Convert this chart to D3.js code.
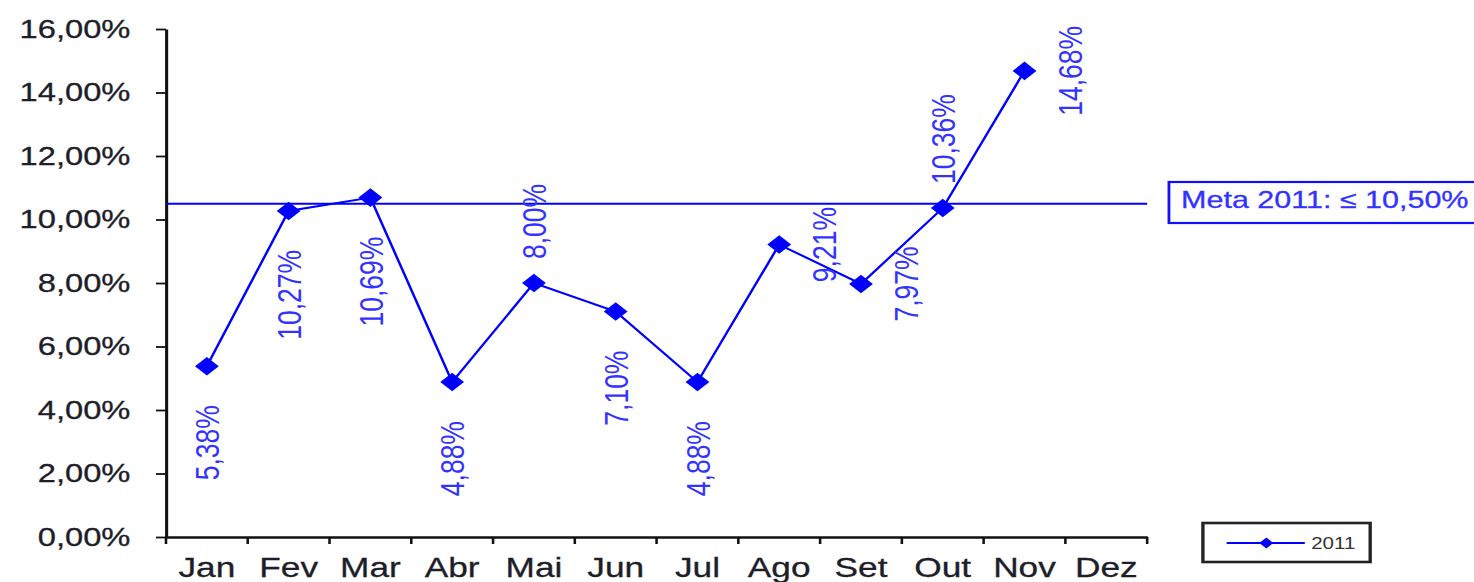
<!DOCTYPE html>
<html>
<head>
<meta charset="utf-8">
<script src="https://cdn.jsdelivr.net/npm/d3@7"></script>
<style>
  html, body { margin: 0; padding: 0; background: #fff; overflow: hidden; }
  svg { display: block; }
  text { font-family: "Liberation Sans", Arial, sans-serif; }
</style>
</head>
<body>
<svg id="chart"></svg>
<script>
// data
var months = ["Jan", "Fev", "Mar", "Abr", "Mai", "Jun", "Jul", "Ago", "Set", "Out", "Nov", "Dez"];
var values2011 = [5.38, 10.27, 10.69, 4.88, 8.00, 7.10, 4.88, 9.21, 7.97, 10.36, 14.68, null];
var labelSide = ["below", "below", "below", "below", "above", "below", "below", "right", "right", "above", "right", "below"];
var yTicks = [0, 2, 4, 6, 8, 10, 12, 14, 16];
var meta = 10.50;
var metaText = "Meta 2011: \u2264 10,50%";
var seriesName = "2011";

var W = 1474, H = 582;
// the original picture is stretched sideways, so draw in a narrower box and let the svg stretch it
var VW = 1150;

var svg = d3.select("#chart")
    .attr("width", W).attr("height", H)
    .attr("viewBox", "0 0 " + VW + " " + H)
    .attr("preserveAspectRatio", "none");

var plotL = 129.5, plotR = 895, plotT = 29, plotB = 537;

var x = d3.scaleBand().domain(months).range([plotL, plotR]);
var y = d3.scaleLinear().domain([0, 16]).range([plotB, plotT]);

function pct(v) { return d3.format(".2f")(v).replace(".", ",") + "%"; }

// y axis
var yAxis = svg.append("g")
    .attr("transform", "translate(" + plotL + ",0)")
    .call(d3.axisLeft(y).tickValues(yTicks).tickSize(7.8).tickSizeOuter(0).tickPadding(20).tickFormat(pct));
yAxis.select(".domain").attr("stroke", "#111").attr("stroke-width", 2.4);
yAxis.selectAll(".tick line").attr("stroke", "#111").attr("stroke-width", 1.8);
yAxis.selectAll(".tick text")
    .attr("fill", "#1e1e2a").attr("stroke", "#1e1e2a").attr("stroke-width", 0.3)
    .style("font-size", "25.5px");

// x axis
var xAxis = svg.append("g")
    .attr("transform", "translate(0," + plotB + ")")
    .call(d3.axisBottom(x).tickSize(0).tickSizeOuter(0).tickPadding(20));
xAxis.select(".domain").attr("stroke", "#111").attr("stroke-width", 2.4);
xAxis.selectAll(".tick text")
    .attr("fill", "#1e1e2a").attr("stroke", "#1e1e2a").attr("stroke-width", 0.3)
    .style("font-size", "27.5px");

// boundary ticks between categories
xAxis.selectAll(".bound")
    .data(d3.range(months.length + 1))
    .enter().append("line")
    .attr("class", "bound")
    .attr("x1", function(i) { return plotL + i * x.step(); })
    .attr("x2", function(i) { return plotL + i * x.step(); })
    .attr("y1", 0).attr("y2", 7)
    .attr("stroke", "#111").attr("stroke-width", 2);

// meta line and label
svg.append("line")
    .attr("x1", plotL).attr("x2", plotR)
    .attr("y1", y(meta)).attr("y2", y(meta))
    .attr("stroke", "#0000ff").attr("stroke-width", 2);

svg.append("rect")
    .attr("x", 912).attr("y", 182)
    .attr("width", 260).attr("height", 41)
    .attr("fill", "#fff").attr("stroke", "#1010ff").attr("stroke-width", 2.2);
svg.append("text")
    .attr("x", 921.5).attr("y", 208)
    .attr("fill", "#3333ff").attr("stroke", "#3333ff").attr("stroke-width", 0.3)
    .style("font-size", "23.8px")
    .text(metaText);

// the series
var pts = months.map(function(m, i) { return { m: m, v: values2011[i], side: labelSide[i] }; })
    .filter(function(d) { return d.v != null; });

var line = d3.line()
    .x(function(d) { return x(d.m) + x.bandwidth() / 2; })
    .y(function(d) { return y(d.v); });

svg.append("path")
    .datum(pts)
    .attr("d", line)
    .attr("fill", "none")
    .attr("stroke", "#0000ff")
    .attr("stroke-width", 2);

var diamond = d3.symbol().type(d3.symbolDiamond2).size(220);

svg.selectAll(".pt")
    .data(pts)
    .enter().append("path")
    .attr("class", "pt")
    .attr("d", diamond)
    .attr("transform", function(d) { return "translate(" + (x(d.m) + x.bandwidth() / 2) + "," + y(d.v) + ")"; })
    .attr("fill", "#0000ff");

// rotated value labels
svg.selectAll(".lbl")
    .data(pts)
    .enter().append("text")
    .attr("class", "lbl")
    .attr("transform", function(d) {
        var px = x(d.m) + x.bandwidth() / 2, py = y(d.v);
        if (d.side == "above") py -= 24;
        else if (d.side == "below") py += 39;
        else px += 35;
        return "translate(" + px + "," + py + ") rotate(-90)";
    })
    .attr("text-anchor", function(d) {
        return d.side == "above" ? "start" : d.side == "below" ? "end" : "middle";
    })
    .attr("dy", "0.36em")
    .attr("fill", "#3333ff")
    .style("font-size", "26.5px")
    .text(function(d) { return pct(d.v); });

// legend
var lg = svg.append("g");
lg.append("rect")
    .attr("x", 938.5).attr("y", 523)
    .attr("width", 130.5).attr("height", 39)
    .attr("fill", "#fff").attr("stroke", "#222").attr("stroke-width", 2.6);
lg.append("line")
    .attr("x1", 957).attr("x2", 1018)
    .attr("y1", 543).attr("y2", 543)
    .attr("stroke", "#0000ff").attr("stroke-width", 2);
lg.append("path")
    .attr("d", d3.symbol().type(d3.symbolDiamond2).size(75))
    .attr("transform", "translate(988,543)")
    .attr("fill", "#0000ff");
lg.append("text")
    .attr("x", 1023).attr("y", 549)
    .attr("fill", "#333")
    .style("font-size", "16px")
    .text(seriesName);
</script>
</body>
</html>
